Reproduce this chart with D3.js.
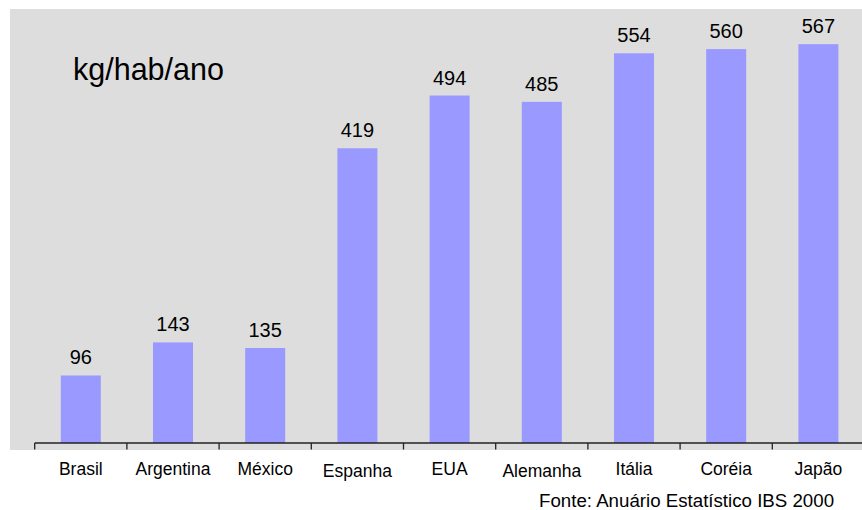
<!DOCTYPE html>
<html>
<head>
<meta charset="utf-8">
<script src="https://cdn.jsdelivr.net/npm/d3@7"></script>
<style>
  body { margin: 0; background: #fff; }
  text { font-family: "Liberation Sans", Arial, sans-serif; fill: #000; }
</style>
</head>
<body>
<svg id="chart" width="862" height="510"></svg>
<script>
// consumo de aço per capita
var countries = ['Brasil', 'Argentina', 'México', 'Espanha', 'EUA', 'Alemanha', 'Itália', 'Coréia', 'Japão'];
var values = [96, 143, 135, 419, 494, 485, 554, 560, 567];
var unitLabel = 'kg/hab/ano';
var sourceLabel = 'Fonte: Anuário Estatístico IBS 2000';

var data = countries.map((c, i) => ({name: c, value: values[i]}));

var svg = d3.select('#chart');
var baseY = 443;

svg.append('rect')
  .attr('x', 10)
  .attr('y', 9)
  .attr('width', 852)
  .attr('height', 441)
  .style('fill', '#dddddd');

var x = d3.scaleBand()
  .domain(countries)
  .range([34.7, 864.5])
  .paddingInner(0.566)
  .paddingOuter(0.283);

var y = d3.scaleLinear()
  .domain([0, 617])
  .range([baseY, 9]);

svg.selectAll('rect.bar')
  .data(data)
  .enter()
  .append('rect')
  .attr('class', 'bar')
  .attr('x', d => x(d.name))
  .attr('y', d => y(d.value))
  .attr('width', x.bandwidth())
  .attr('height', d => baseY - y(d.value))
  .style('fill', '#9999ff');

// axis line + ticks at category boundaries
svg.append('line')
  .attr('x1', 34.7)
  .attr('x2', 862)
  .attr('y1', baseY)
  .attr('y2', baseY)
  .style('stroke', '#222')
  .style('stroke-width', 1.3);

var bounds = countries.map(c => x(c) + x.bandwidth() / 2 - x.step() / 2);
svg.selectAll('line.tick')
  .data(bounds)
  .enter()
  .append('line')
  .attr('class', 'tick')
  .attr('x1', d => d)
  .attr('x2', d => d)
  .attr('y1', baseY)
  .attr('y2', baseY + 6.5)
  .style('stroke', '#222')
  .style('stroke-width', 1.3);

svg.selectAll('text.value')
  .data(data)
  .enter()
  .append('text')
  .attr('class', 'value')
  .attr('x', d => x(d.name) + x.bandwidth() / 2)
  .attr('y', d => y(d.value) - 11)
  .attr('text-anchor', 'middle')
  .style('font-size', '20px')
  .text(d => d.value);

svg.selectAll('text.cat')
  .data(data)
  .enter()
  .append('text')
  .attr('class', 'cat')
  .attr('x', d => x(d.name) + x.bandwidth() / 2)
  .attr('y', d => (d.name === 'Espanha' || d.name === 'Alemanha') ? 476.5 : 475)
  .attr('text-anchor', 'middle')
  .style('font-size', '17.5px')
  .text(d => d.name);

svg.append('text')
  .attr('x', 73)
  .attr('y', 79.5)
  .style('font-size', '30.5px')
  .text(unitLabel);

svg.append('text')
  .attr('x', 539)
  .attr('y', 507)
  .style('font-size', '18.7px')
  .text(sourceLabel);
</script>
</body>
</html>
